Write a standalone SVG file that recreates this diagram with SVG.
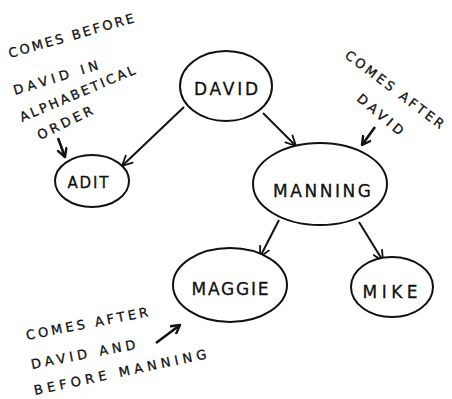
<svg xmlns="http://www.w3.org/2000/svg" width="452" height="399" viewBox="0 0 452 399">
<defs>
<marker id="open" viewBox="0 0 12 12" refX="11" refY="6" markerWidth="12" markerHeight="12" markerUnits="userSpaceOnUse" orient="auto">
<path d="M1,1 L11,6 L1,11" fill="none" stroke="#111" stroke-width="1.8" stroke-linecap="round" stroke-linejoin="round"/>
</marker>
<marker id="bold" viewBox="0 0 12 12" refX="10" refY="6" markerWidth="11" markerHeight="11" markerUnits="userSpaceOnUse" orient="auto">
<path d="M1,1 L10,6 L1,11" fill="none" stroke="#111" stroke-width="2.6" stroke-linecap="round" stroke-linejoin="round"/>
</marker>
</defs>
<style>
.node{fill:#fff;stroke:#111;stroke-width:2}
.lbl{font-family:"DejaVu Sans","Liberation Sans",sans-serif;font-size:17px;fill:#111;stroke:#111;stroke-width:0.3;text-anchor:middle}
.note{font-family:"DejaVu Sans","Liberation Sans",sans-serif;font-size:13px;fill:#111;stroke:#111;stroke-width:0.3}
.edge{fill:none;stroke:#111;stroke-width:2;marker-end:url(#open)}
.pt{fill:none;stroke:#111;stroke-width:2.6;marker-end:url(#bold)}
</style>
<rect width="452" height="399" fill="#fff"/>
<g id="connectors">
<line class="edge" x1="184" y1="107" x2="122" y2="166"/>
<line class="edge" x1="263" y1="113" x2="296" y2="146"/>
<line class="edge" x1="279" y1="220" x2="260" y2="257"/>
<line class="edge" x1="359" y1="222" x2="383" y2="261"/>
</g>
<g id="node-david">
<ellipse class="node" cx="226" cy="86" rx="46" ry="35"/>
<text class="lbl" x="226" y="95" textLength="64" lengthAdjust="spacing">DAVID</text>
</g>
<g id="node-adit">
<ellipse class="node" cx="92" cy="181" rx="37" ry="26"/>
<text class="lbl" x="88" y="188" textLength="41" lengthAdjust="spacing" style="font-size:15px">ADIT</text>
</g>
<g id="node-manning">
<ellipse class="node" cx="320" cy="184" rx="67" ry="41"/>
<text class="lbl" x="322" y="197" textLength="98" lengthAdjust="spacing">MANNING</text>
</g>
<g id="node-maggie">
<ellipse class="node" cx="230" cy="285" rx="57" ry="37"/>
<text class="lbl" x="230" y="295" textLength="77" lengthAdjust="spacing">MAGGIE</text>
</g>
<g id="node-mike">
<ellipse class="node" cx="392" cy="287" rx="41" ry="30"/>
<text class="lbl" x="390" y="298" textLength="55" lengthAdjust="spacing">MIKE</text>
</g>
<g id="note-before">
<text class="note" x="10" y="58" transform="rotate(-16 10 58)" textLength="130" lengthAdjust="spacing">COMES BEFORE</text>
<text class="note" x="15" y="95" transform="rotate(-17 15 95)" textLength="88" lengthAdjust="spacing">DAVID IN</text>
<text class="note" x="22" y="122" transform="rotate(-23 22 122)" textLength="124" lengthAdjust="spacing">ALPHABETICAL</text>
<text class="note" x="40" y="140" transform="rotate(-26 40 140)" textLength="60" lengthAdjust="spacing">ORDER</text>
<line class="pt" x1="58" y1="138" x2="65" y2="157"/>
</g>
<g id="note-after">
<text class="note" x="344" y="57" transform="rotate(37 344 57)" textLength="120" lengthAdjust="spacing">COMES AFTER</text>
<text class="note" x="356" y="100" transform="rotate(40 356 100)" textLength="56" lengthAdjust="spacing">DAVID</text>
<line class="pt" x1="375" y1="127" x2="362" y2="145"/>
</g>
<g id="note-between">
<text class="note" x="27" y="340" transform="rotate(-11 27 340)" textLength="124" lengthAdjust="spacing">COMES AFTER</text>
<text class="note" x="32" y="369" transform="rotate(-11 32 369)" textLength="106" lengthAdjust="spacing">DAVID AND</text>
<text class="note" x="35" y="395" transform="rotate(-12 35 395)" textLength="176" lengthAdjust="spacing">BEFORE MANNING</text>
<line class="pt" x1="156" y1="343" x2="180" y2="325"/>
</g>
</svg>
